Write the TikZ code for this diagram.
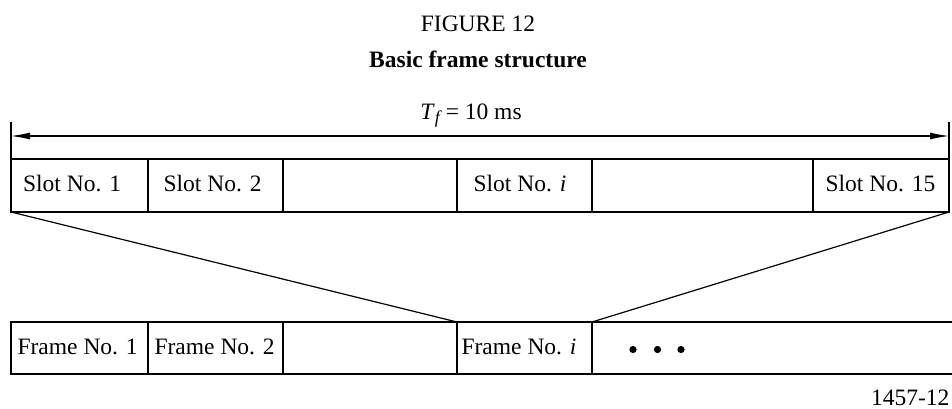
\documentclass[tikz,border=0pt]{standalone}
\usepackage{fontspec}
\setmainfont{Liberation Serif}
\usetikzlibrary{arrows.meta}
\begin{document}
\begin{tikzpicture}[x=1pt,y=-1pt,line width=1.2pt,
  txt/.style={inner sep=0pt,anchor=base west,font=\fontsize{23.5}{28}\selectfont},
  ctr/.style={inner sep=0pt,anchor=base,font=\fontsize{23.5}{28}\selectfont},
  dimarrow/.style={{Latex[length=19pt,width=7pt]}-{Latex[length=19pt,width=7pt]}}]
\useasboundingbox (0,0) rectangle (952,409);
% titles
\node[ctr] (fig) at (478,32) {FIGURE 12};
\node[ctr] (ttl) at (478,68) {\bfseries Basic frame structure};
\node[ctr] (tf) at (471,119) {\textit{T}\raisebox{-0.45ex}{\fontsize{18}{20}\selectfont\textit{f}}\,= 10 ms};
% top row
\coordinate (tl) at (11,159);
\coordinate (tr) at (949,159);
\coordinate (bl) at (11,212);
\coordinate (br) at (949,212);
\draw (tl) rectangle (br);
\foreach \x in {148,283,457,592,813} \draw (\x,159) -- (\x,212);
\coordinate (tickl) at (11,122);
\coordinate (tickr) at (949,122);
\draw (tickl) -- (tl);
\draw (tickr) -- (tr);
\coordinate (al) at (11,136);
\coordinate (ar) at (949,136);
\draw[dimarrow] (al) -- (ar);
\node[txt] (s1) at (22.5,191) {Slot No. 1};
\node[txt] (s2) at (163,191) {Slot No. 2};
\node[txt] (si) at (473,191) {Slot No. \textit{i}};
\node[txt] (s15) at (825,191) {Slot No. 15};
% bottom row
\coordinate (fl) at (11,322);
\coordinate (fi) at (457,322);
\coordinate (fj) at (592,322);
\coordinate (fr) at (952,322);
\coordinate (gl) at (11,374);
\coordinate (gr) at (952,374);
\draw (fr) -- (fl) -- (gl) -- (gr);
\foreach \x in {148,283,457,592} \draw (\x,322) -- (\x,374);
\node[txt] (f1) at (17,354) {Frame No. 1};
\node[txt] (f2) at (154,354) {Frame No. 2};
\node[txt] (fii) at (461,354) {Frame No. \textit{i}};
\foreach \x in {633,657.5,681} \fill (\x,349.5) circle (3.6);
% fan lines
\draw (bl) -- (fi);
\draw (br) -- (fj);
\node[txt,anchor=base east] (num) at (950,405) {1457-12};
\end{tikzpicture}
\end{document}
